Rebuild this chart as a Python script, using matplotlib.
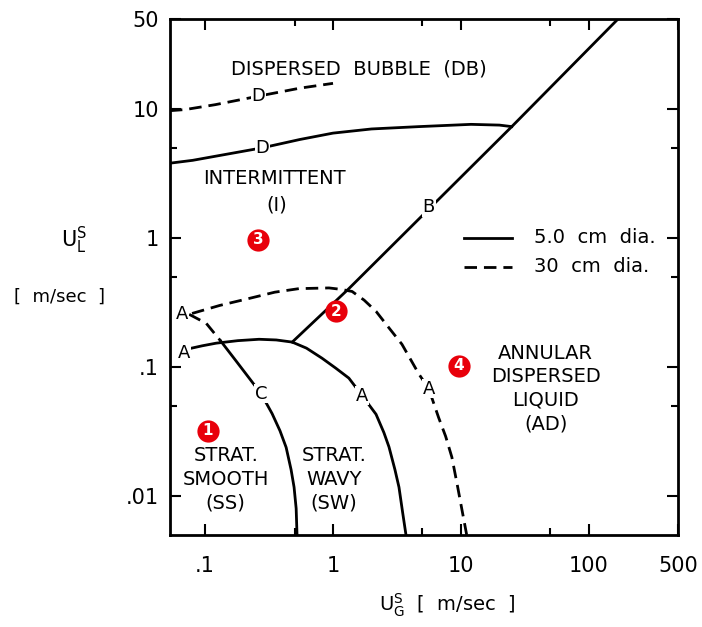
import matplotlib
matplotlib.use("Agg")
from matplotlib import pyplot as plt
from matplotlib.ticker import FixedLocator, NullFormatter

plt.rcParams.update({
    "font.family": "DejaVu Sans",
    "mathtext.fontset": "dejavusans",
})

# dispersed bubble boundary (D)
d30_x = [0.053, 0.07, 0.12, 0.264, 0.55, 1.0]
d30_y = [9.7, 9.9, 10.8, 12.6, 14.5, 15.8]
d5_x = [0.053, 0.08, 0.12, 0.28, 0.55, 1.0, 2.0, 4.7, 12, 20, 25]
d5_y = [3.8, 4.0, 4.3, 5.0, 5.8, 6.5, 7.0, 7.3, 7.6, 7.5, 7.3]

# intermittent / annular boundary (B)
b_x = [0.48, 1.33, 25, 170]
b_y = [0.156, 0.405, 7.3, 50]

# stratified / non-stratified boundary (A)
a5_x = [0.071, 0.095, 0.122, 0.18, 0.264, 0.36, 0.479, 0.62, 0.82, 1.05,
        1.33, 1.69, 2.17, 2.5, 2.74, 3.05, 3.28, 3.5, 3.72]
a5_y = [0.137, 0.146, 0.153, 0.160, 0.164, 0.162, 0.156, 0.140, 0.117, 0.098,
        0.082, 0.060, 0.043, 0.031, 0.024, 0.016, 0.0117, 0.0075, 0.005]
a30_x = [0.079, 0.13, 0.221, 0.35, 0.542, 0.93, 1.15, 1.41, 1.75, 2.17, 2.75,
         3.46, 4.7, 5.6, 6.7, 7.6, 8.5, 9.4, 10.2, 11.1]
a30_y = [0.26, 0.30, 0.34, 0.38, 0.405, 0.41, 0.40, 0.385, 0.33, 0.27, 0.20,
         0.150, 0.088, 0.068, 0.0405, 0.029, 0.020, 0.012, 0.0078, 0.005]

# stratified smooth / wavy boundary (C)
c_dash_x = [0.075, 0.102, 0.133]
c_dash_y = [0.256, 0.218, 0.158]
c_x = [0.133, 0.175, 0.221, 0.274, 0.334, 0.385, 0.43, 0.47, 0.496, 0.515, 0.523]
c_y = [0.158, 0.111, 0.082, 0.062, 0.0435, 0.032, 0.0238, 0.016, 0.0117, 0.008, 0.005]

# numbered operating points
pt_x = [0.105, 1.06, 0.26, 9.6]
pt_y = [0.032, 0.27, 0.97, 0.102]
pt_lbl = ["1", "2", "3", "4"]

xticks = [0.1, 1, 10, 100, 500]
xtick_lbl = [".1", "1", "10", "100", "500"]
yticks = [0.01, 0.1, 1, 10, 50]
ytick_lbl = [".01", ".1", "1", "10", "50"]

LW = 2.0
DASH = (4.5, 2.5)

fig = plt.figure(figsize=(7.02, 6.27), dpi=100)
ax = fig.add_axes([0.242, 0.147, 0.724, 0.823])
ax.set_xscale("log")
ax.set_yscale("log")
ax.set_xlim(0.053, 500)
ax.set_ylim(0.005, 50)

ax.plot(d30_x, d30_y, color="k", lw=LW, dashes=DASH)
ax.plot(d5_x, d5_y, color="k", lw=LW)
ax.plot(b_x, b_y, color="k", lw=LW)
ax.plot(a5_x, a5_y, color="k", lw=LW)
ax.plot(a30_x, a30_y, color="k", lw=LW, dashes=DASH)
ax.plot(c_dash_x, c_dash_y, color="k", lw=LW, dashes=DASH)
ax.plot(c_x, c_y, color="k", lw=LW)

box = dict(facecolor="white", edgecolor="none", pad=0.5)
lbl = dict(fontsize=13, ha="center", va="center", bbox=box)
ax.text(0.26, 12.6, "D", **lbl)
ax.text(0.28, 5.0, "D", **lbl)
ax.text(5.6, 1.73, "B", **lbl)
ax.text(0.066, 0.258, "A", **lbl)
ax.text(0.068, 0.128, "A", **lbl)
ax.text(0.274, 0.062, "C", **lbl)
ax.text(1.69, 0.060, "A", **lbl)
ax.text(5.6, 0.068, "A", **lbl)

reg = dict(fontsize=14, ha="center", va="center", linespacing=1.3)
ax.text(1.6, 20.5, "DISPERSED  BUBBLE  (DB)", **reg)
ax.text(0.35, 2.9, "INTERMITTENT", **reg)
ax.text(0.36, 1.8, "(I)", **reg)
ax.text(0.145, 0.0135, "STRAT.\nSMOOTH\n(SS)", **reg)
ax.text(1.02, 0.0135, "STRAT.\nWAVY\n(SW)", **reg)
ax.text(46, 0.068, "ANNULAR\nDISPERSED\nLIQUID\n(AD)", **reg)

# legend drawn by hand
ax.plot([10.5, 25], [1.0, 1.0], color="k", lw=LW)
ax.plot([10.5, 25], [0.6, 0.6], color="k", lw=LW, dashes=DASH)
ax.text(37, 1.0, "5.0  cm  dia.", fontsize=14, va="center")
ax.text(37, 0.6, "30  cm  dia.", fontsize=14, va="center")

ax.plot(pt_x, pt_y, "o", color="#e8000b", markersize=16, markeredgewidth=0)
for x, y, t in zip(pt_x, pt_y, pt_lbl):
    ax.text(x, y, t, color="white", fontsize=11, fontweight="bold",
            ha="center", va="center")

ax.xaxis.set_major_locator(FixedLocator(xticks))
ax.set_xticklabels(xtick_lbl)
ax.xaxis.set_minor_locator(FixedLocator([0.5, 5, 50]))
ax.xaxis.set_minor_formatter(NullFormatter())
ax.yaxis.set_major_locator(FixedLocator(yticks))
ax.set_yticklabels(ytick_lbl)
ax.yaxis.set_minor_locator(FixedLocator([0.05, 0.5, 5]))
ax.yaxis.set_minor_formatter(NullFormatter())
ax.tick_params(which="both", direction="in", top=True, right=True,
               width=1.5, labelsize=15)
ax.tick_params(which="major", length=8)
ax.tick_params(which="minor", length=5)
ax.tick_params(axis="x", which="major", pad=15)
ax.tick_params(axis="y", which="major", pad=8)
for s in ax.spines.values():
    s.set_linewidth(2.0)

fig.text(0.105, 0.617, r"$\mathregular{U_L^S}$", fontsize=15, ha="center", va="center")
fig.text(0.085, 0.527, "[  m/sec  ]", fontsize=13, ha="center", va="center")
fig.text(0.637, 0.035, r"$\mathregular{U_G^S}$  [  m/sec  ]", fontsize=14,
         ha="center", va="center")

fig.savefig("out.png", dpi=100)
